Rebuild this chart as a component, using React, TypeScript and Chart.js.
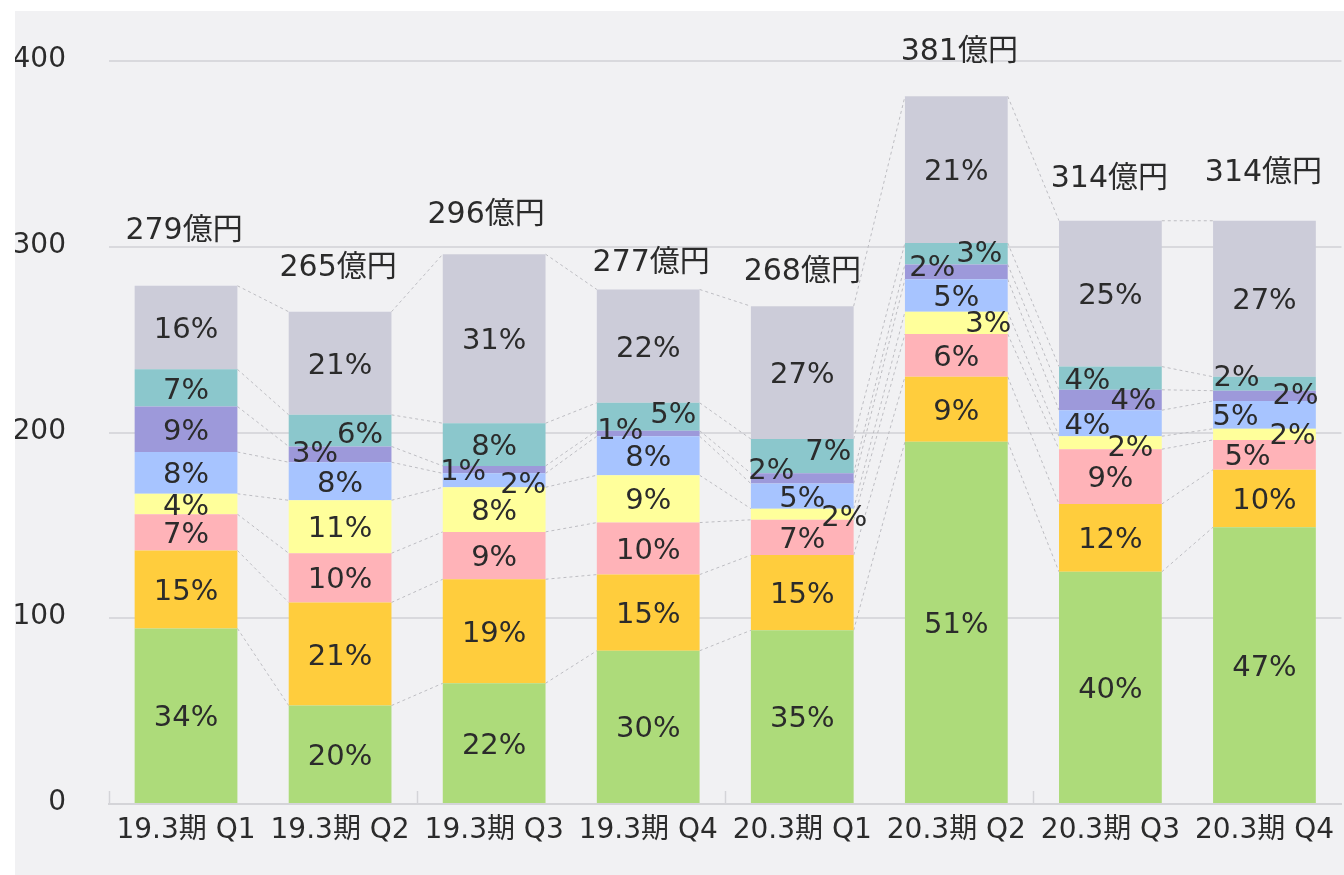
import React, { useEffect, useRef } from "react";
import { Chart, registerables } from "chart.js";

Chart.register(...registerables);

// ---------------- data ----------------
const categories = [
  "19.3期 Q1",
  "19.3期 Q2",
  "19.3期 Q3",
  "19.3期 Q4",
  "20.3期 Q1",
  "20.3期 Q2",
  "20.3期 Q3",
  "20.3期 Q4",
];
const yTickValues = [0, 100, 200, 300, 400];
const totals = [279, 265, 296, 277, 268, 381, 314, 314];
const totalUnit = "億円";

const greenValues = [94.5, 53, 65, 82.5, 93.5, 195, 125, 149];
const orangeValues = [42, 55.5, 56, 41, 40.5, 35, 36.5, 31];
const pinkValues = [19.5, 26.5, 25.5, 28, 19, 23, 29.5, 16];
const yellowValues = [11, 28.5, 24, 25.5, 6, 12, 7, 6];
const blueValues = [22.5, 20.5, 7.5, 21, 13.5, 17.5, 14, 15];
const purpleValues = [24.5, 8.5, 4, 3, 5.5, 8, 11, 5.5];
const tealValues = [20, 17, 23, 15, 18.5, 11.5, 12.5, 7.5];
const grayValues = [45, 55.5, 91, 61, 71.5, 79, 78.5, 84];

const greenPct = [34, 20, 22, 30, 35, 51, 40, 47];
const orangePct = [15, 21, 19, 15, 15, 9, 12, 10];
const pinkPct = [7, 10, 9, 10, 7, 6, 9, 5];
const yellowPct = [4, 11, 8, 9, 2, 3, 2, 2];
const bluePct = [8, 8, 2, 8, 5, 5, 4, 5];
const purplePct = [9, 3, 1, 1, 2, 2, 4, 2];
const tealPct = [7, 6, 8, 5, 7, 3, 4, 2];
const grayPct = [16, 21, 31, 22, 27, 21, 25, 27];

// ---------------- styles / label placement ----------------
const seriesColors = [
  "#addb7a",
  "#ffcd3d",
  "#ffb3b8",
  "#ffff9b",
  "#a7c4ff",
  "#9d99da",
  "#8bc7cc",
  "#ccccd9",
];
const FONT = '"DejaVu Sans", "Noto Sans CJK JP", sans-serif';
const BG = "#f1f1f3";
const TEXT = "#2b2b2b";

// label nudges for thin segments: key `${series}-${bar}` -> [dx, dy]
const pctLabelNudge: Record<string, [number, number]> = {
  "5-1": [-25, -3],
  "6-1": [20, 2],
  "5-2": [-31, 0],
  "4-2": [29, 2],
  "5-3": [-28, -5],
  "6-3": [25, -4],
  "6-4": [26, -7],
  "5-4": [-31, -10],
  "3-4": [42, 1],
  "6-5": [23, -2],
  "5-5": [-24, -6],
  "3-5": [32, -1],
  "6-6": [-23, 0],
  "5-6": [23, -2],
  "4-6": [-23, 0],
  "3-6": [20, 3],
  "6-7": [-28, -8],
  "5-7": [31, -2],
  "4-7": [-29, 0],
  "3-7": [28, -1],
  "2-7": [-17, 0],
};
const totalLabelNudge: [number, number][] = [
  [-2, -58],
  [-2, -47],
  [-8, -42],
  [3, -29],
  [0, -37],
  [3, -47],
  [-1, -45],
  [-1, -51],
];

const App: React.FC = () => {
  const canvasRef = useRef<HTMLCanvasElement | null>(null);

  useEffect(() => {
    if (!canvasRef.current) return;
    const valueSets = [
      greenValues,
      orangeValues,
      pinkValues,
      yellowValues,
      blueValues,
      purpleValues,
      tealValues,
      grayValues,
    ];
    const pctSets = [
      greenPct,
      orangePct,
      pinkPct,
      yellowPct,
      bluePct,
      purplePct,
      tealPct,
      grayPct,
    ];

    const connectorPlugin = {
      id: "connectors",
      beforeDatasetsDraw(chart: any) {
        const ctx = chart.ctx;
        ctx.save();
        ctx.strokeStyle = "#bdbdc2";
        ctx.lineWidth = 1;
        ctx.setLineDash([3, 3]);
        for (let s = 0; s < valueSets.length; s++) {
          const meta = chart.getDatasetMeta(s);
          for (let i = 0; i < categories.length - 1; i++) {
            const a = meta.data[i] as any;
            const b = meta.data[i + 1] as any;
            ctx.beginPath();
            ctx.moveTo(a.x + a.width / 2, a.y);
            ctx.lineTo(b.x - b.width / 2, b.y);
            ctx.stroke();
          }
        }
        ctx.restore();
      },
    };

    const axisPlugin = {
      id: "axisExtras",
      afterDraw(chart: any) {
        const ctx = chart.ctx;
        const xs = chart.scales.x;
        const ys = chart.scales.y;
        const { bottom, left } = chart.chartArea;
        const step = xs.getPixelForValue(1) - xs.getPixelForValue(0);
        ctx.save();
        ctx.strokeStyle = "#d4d4d8";
        ctx.lineWidth = 1.5;
        for (let i = 0; i < categories.length; i += 2) {
          const x = Math.round(xs.getPixelForValue(i) - step / 2) + 0.5;
          ctx.beginPath();
          ctx.moveTo(x, bottom);
          ctx.lineTo(x, bottom - 13);
          ctx.stroke();
        }
        // y tick labels
        const size = 28;
        ctx.font = `${size}px ${FONT}`;
        ctx.fillStyle = TEXT;
        ctx.textAlign = "right";
        ctx.textBaseline = "alphabetic";
        for (const v of yTickValues) {
          const y = ys.getPixelForValue(v) - 4;
          ctx.fillText(String(v), left - 43, y + size * 0.365);
        }
        ctx.restore();
      },
    };

    const labelPlugin = {
      id: "labels",
      afterDatasetsDraw(chart: any) {
        const ctx = chart.ctx;
        ctx.save();
        ctx.fillStyle = TEXT;
        ctx.textAlign = "center";
        ctx.textBaseline = "alphabetic";
        const pSize = 29;
        ctx.font = `${pSize}px ${FONT}`;
        for (let s = 0; s < pctSets.length; s++) {
          const meta = chart.getDatasetMeta(s);
          for (let i = 0; i < categories.length; i++) {
            const el = meta.data[i] as any;
            const nudge = pctLabelNudge[`${s}-${i}`] || [0, 0];
            const cx = el.x + nudge[0];
            const cy = (el.y + el.base) / 2 + nudge[1];
            ctx.fillText(`${pctSets[s][i]}%`, cx, cy + pSize * 0.365);
          }
        }
        const tSize = 30;
        ctx.font = `${tSize}px ${FONT}`;
        const topMeta = chart.getDatasetMeta(pctSets.length - 1);
        for (let i = 0; i < categories.length; i++) {
          const el = topMeta.data[i] as any;
          const n = totalLabelNudge[i];
          ctx.fillText(
            `${totals[i]}${totalUnit}`,
            el.x + n[0],
            el.y + n[1] + tSize * 0.365
          );
        }
        ctx.restore();
      },
    };

    const chart = new Chart(canvasRef.current, {
      type: "bar",
      data: {
        labels: categories,
        datasets: valueSets.map((vals, s) => ({
          label: `s${s}`,
          data: vals,
          backgroundColor: seriesColors[s],
          borderWidth: 0,
          barPercentage: 0.667,
          categoryPercentage: 1,
        })),
      },
      options: {
        responsive: false,
        animation: false,
        devicePixelRatio: 1,
        layout: { padding: { top: 50, left: 0, right: 0, bottom: 0 } },
        plugins: {
          legend: { display: false },
          tooltip: { enabled: false },
        },
        scales: {
          x: {
            stacked: true,
            offset: true,
            grid: { display: false, drawTicks: false },
            border: { display: true, color: "#d4d4d8", width: 2 },
            ticks: {
              color: TEXT,
              font: { family: FONT, size: 28 },
              padding: 10,
              maxRotation: 0,
              autoSkip: false,
            },
            afterFit(scale: any) {
              scale.height = 71;
            },
          },
          y: {
            stacked: true,
            min: 0,
            max: 400,
            afterBuildTicks(scale: any) {
              scale.ticks = yTickValues.map((v) => ({ value: v }));
            },
            grid: { color: "#d9d9dd", lineWidth: 2, drawTicks: false },
            border: { display: false },
            ticks: { display: false },
            afterFit(scale: any) {
              scale.width = 94;
            },
          },
        },
      },
      plugins: [connectorPlugin, labelPlugin, axisPlugin],
    });
    return () => chart.destroy();
  }, []);

  return (
    <div
      style={{
        position: "fixed",
        left: 15,
        top: 11,
        width: 1329,
        height: 864,
        background: BG,
      }}
    >
      <canvas ref={canvasRef} width={1329} height={864} />
    </div>
  );
};

export default App;
